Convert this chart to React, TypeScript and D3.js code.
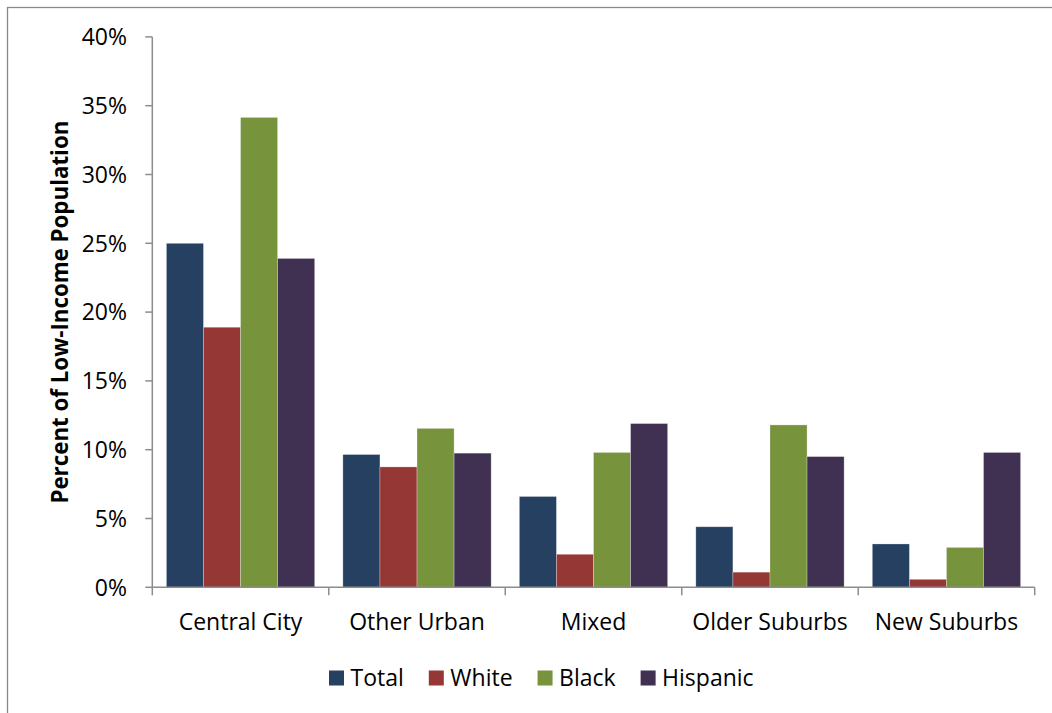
import { useEffect, useRef } from "react";
import * as d3 from "d3";

const categories = ["Central City", "Other Urban", "Mixed", "Older Suburbs", "New Suburbs"];
const seriesNames = ["Total", "White", "Black", "Hispanic"];
const total = [25.0, 9.65, 6.6, 4.4, 3.15];
const white = [18.9, 8.75, 2.4, 1.1, 0.58];
const black = [34.15, 11.55, 9.8, 11.8, 2.9];
const hispanic = [23.9, 9.75, 11.9, 9.5, 9.8];
const yTicks = [0, 5, 10, 15, 20, 25, 30, 35, 40];
const colors = ["#254061", "#953735", "#77933c", "#403152"];

const W = 1052;
const H = 713;
const FONT = "'Open Sans', Lato, sans-serif";

export default function App() {
  const ref = useRef<SVGSVGElement>(null);

  useEffect(() => {
    if (!ref.current) return;
    const svg = d3.select(ref.current);
    svg.selectAll("*").remove();

    const series = [total, white, black, hispanic];
    const left = 152.3, right = 1034.7, top = 36.9, bottom = 587.3;

    // frame
    svg.append("rect")
      .attr("x", 7.5).attr("y", 7.5)
      .attr("width", W).attr("height", H + 10)
      .attr("fill", "white").attr("stroke", "#898989").attr("stroke-width", 1.3);

    const x = d3.scaleBand<string>().domain(categories).range([left, right]).paddingInner(0).paddingOuter(0);
    const inner = d3.scaleBand<number>().domain(d3.range(4)).range([14.1, x.bandwidth() - 14.1]);
    const y = d3.scaleLinear().domain([0, 40]).range([bottom, top]);

    const axisColor = "#8c8c8c";

    // bars
    series.forEach((vals, si) => {
      svg.append("g")
        .selectAll("rect")
        .data(vals)
        .join("rect")
        .attr("x", (_, i) => (x(categories[i]) as number) + (inner(si) as number))
        .attr("y", (d) => y(d))
        .attr("width", inner.bandwidth())
        .attr("height", (d) => bottom - y(d))
        .attr("fill", colors[si])
        .attr("stroke", "rgba(255,255,255,0.35)")
        .attr("stroke-width", 0.8);
    });

    // y axis
    const gy = svg.append("g");
    gy.append("line")
      .attr("x1", left).attr("x2", left).attr("y1", top).attr("y2", bottom)
      .attr("stroke", axisColor).attr("stroke-width", 1.5);
    gy.selectAll("line.tick")
      .data(yTicks)
      .join("line")
      .attr("class", "tick")
      .attr("x1", left - 7).attr("x2", left)
      .attr("y1", (d) => y(d)).attr("y2", (d) => y(d))
      .attr("stroke", axisColor).attr("stroke-width", 1.5);
    gy.selectAll("text")
      .data(yTicks)
      .join("text")
      .attr("x", 127)
      .attr("y", (d) => y(d))
      .attr("dy", "0.36em")
      .attr("text-anchor", "end")
      .attr("font-family", FONT)
      .attr("font-size", 23)
      .attr("fill", "#000")
      .text((d) => `${d}%`);

    // x axis
    const gx = svg.append("g");
    gx.append("line")
      .attr("x1", left).attr("x2", right).attr("y1", bottom).attr("y2", bottom)
      .attr("stroke", axisColor).attr("stroke-width", 1.5);
    const edges = categories.map((c) => x(c) as number).concat([right]);
    gx.selectAll("line.tick")
      .data(edges)
      .join("line")
      .attr("class", "tick")
      .attr("x1", (d) => d).attr("x2", (d) => d)
      .attr("y1", bottom).attr("y2", bottom + 8)
      .attr("stroke", axisColor).attr("stroke-width", 1.5);
    gx.selectAll("text")
      .data(categories)
      .join("text")
      .attr("x", (d) => (x(d) as number) + x.bandwidth() / 2)
      .attr("y", 630)
      .attr("text-anchor", "middle")
      .attr("font-family", FONT)
      .attr("font-size", 23)
      .attr("fill", "#000")
      .text((d) => d);

    // y label
    svg.append("text")
      .attr("transform", `translate(68,${(top + bottom) / 2}) rotate(-90)`)
      .attr("text-anchor", "middle")
      .attr("font-family", FONT)
      .attr("font-size", 22.3)
      .attr("font-weight", "bold")
      .attr("fill", "#000")
      .text("Percent of Low-Income Population");

    // legend
    const lg = svg.append("g");
    let cx = 329;
    seriesNames.forEach((name, i) => {
      lg.append("rect")
        .attr("x", cx).attr("y", 670.5)
        .attr("width", 15).attr("height", 15)
        .attr("fill", colors[i]);
      const t = lg.append("text")
        .attr("x", cx + 21.5)
        .attr("y", 678)
        .attr("dy", "0.36em")
        .attr("font-family", FONT)
        .attr("font-size", 23)
        .attr("fill", "#000")
        .text(name);
      const w = (t.node() as SVGTextElement).getComputedTextLength();
      cx += 21.5 + w + 25;
    });
  }, []);

  return (
    <div style={{ position: "absolute", left: 0, top: 0 }}>
      <svg ref={ref} width={W} height={H} style={{ display: "block" }} />
    </div>
  );
}
